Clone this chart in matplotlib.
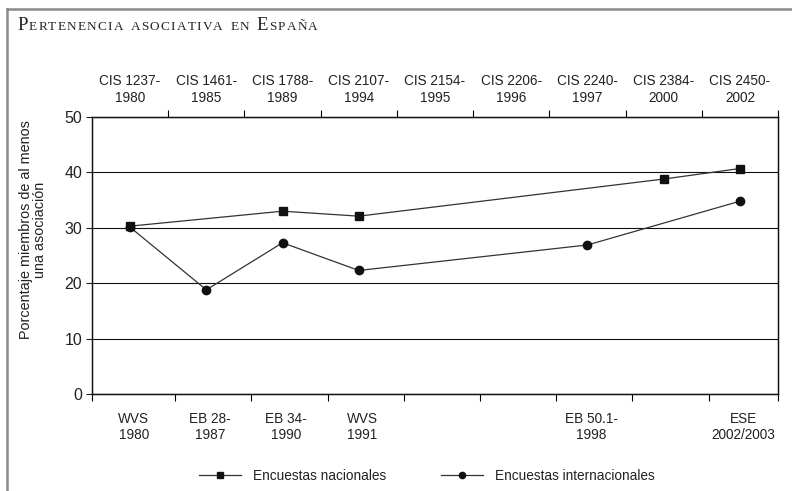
import matplotlib
matplotlib.use("Agg")
import matplotlib.pyplot as plt
import numpy as np
from matplotlib.lines import Line2D
from matplotlib.offsetbox import TextArea, HPacker, AnchoredOffsetbox, DrawingArea

plt.rcParams['font.family'] = ['Liberation Sans', 'DejaVu Sans']

# ---- data ----
top_labels = ["CIS 1237-\n1980", "CIS 1461-\n1985", "CIS 1788-\n1989", "CIS 2107-\n1994",
              "CIS 2154-\n1995", "CIS 2206-\n1996", "CIS 2240-\n1997", "CIS 2384-\n2000",
              "CIS 2450-\n2002"]
bottom_labels = ["WVS\n1980", "EB 28-\n1987", "EB 34-\n1990", "WVS\n1991", "", "",
                 "EB 50.1-\n1998", "", "ESE\n2002/2003"]
nac_x = [0, 2, 3, 7, 8]
nac_y = [30.3, 33.0, 32.1, 38.8, 40.7]
int_x = [0, 1, 2, 3, 6, 8]
int_y = [30.1, 18.8, 27.3, 22.3, 26.9, 34.8]
y_ticks = [0, 10, 20, 30, 40, 50]
title = "Pertenencia asociativa en España"
ylabel = "Porcentaje miembros de al menos\nuna asociación"
legend_labels = ["Encuestas nacionales", "Encuestas internacionales"]

W, H = 792, 491
fig = plt.figure(figsize=(W / 100, H / 100), dpi=100)
ax = fig.add_axes([92 / W, 1 - 394 / H, (778 - 92) / W, (394 - 117) / H])

n = len(top_labels)
ax.set_xlim(-0.5, n - 0.5)
ax.set_ylim(0, 50)

# series
ax.plot(nac_x, nac_y, color='#333333', lw=0.9, marker='s', ms=6, mfc='#111111',
        mec='#111111', zorder=4)
ax.plot(int_x, int_y, color='#333333', lw=0.9, marker='o', ms=6, mfc='#111111',
        mec='#111111', zorder=4)

# y axis
ax.set_yticks(y_ticks)
ax.tick_params(axis='y', direction='out', length=4, width=0.8, labelsize=11.5, pad=3,
               colors='#222222')
ax.yaxis.grid(True, color='#111111', lw=0.8)
ax.set_axisbelow(True)
ax.set_ylabel(ylabel, fontsize=10.4, color='#222222', linespacing=1.0)
ax.yaxis.set_label_coords((47 - 92) / (778 - 92), 1 - (230 - 117) / (394 - 117))

# bottom axis
centers = np.arange(n)
ax.set_xticks(np.arange(-0.5, n + 0.5, 1) + np.r_[0, np.full(n - 1, 0.09), 0])
ax.set_xticklabels([])
ax.set_xticks(centers + 0.05, minor=True)
ax.set_xticklabels(bottom_labels, minor=True, fontsize=9.8, color='#222222')
ax.tick_params(axis='x', which='major', direction='out', length=5, width=0.8)
ax.tick_params(axis='x', which='minor', length=0, pad=13)

# top axis
axt = ax.twiny()
axt.set_xlim(ax.get_xlim())
axt.set_xticks(np.arange(0.5, n + 0.5, 1))
axt.set_xticklabels([])
axt.set_xticks(centers, minor=True)
axt.set_xticklabels(top_labels, minor=True, fontsize=9.8, color='#222222')
axt.tick_params(axis='x', which='major', direction='out', length=5, width=0.8)
axt.tick_params(axis='x', which='minor', length=0, pad=9)

for a in (ax, axt):
    for s in a.spines.values():
        s.set_color('#111111')
        s.set_linewidth(0.9)

# legend
handles = [Line2D([], [], color='#333333', lw=0.9, marker='s', ms=4.5, mfc='#111111', mec='#111111'),
           Line2D([], [], color='#333333', lw=0.9, marker='o', ms=4.5, mfc='#111111', mec='#111111')]
fig.legend(handles, legend_labels, loc='center', bbox_to_anchor=(427 / W, 1 - 476 / H),
           ncol=2, frameon=False, fontsize=9.8, handlelength=3.1, handletextpad=0.88,
           columnspacing=4.0, labelcolor='#222222')

# title in small caps (letter-spaced)
boxes = []
prev_space = True
for ch in title:
    if ch == " ":
        boxes.append(DrawingArea(3.5, 1))
        prev_space = True
        continue
    big = prev_space and ch.isupper()
    boxes.append(TextArea(ch.upper(), textprops=dict(family='Liberation Serif',
                                                       fontsize=13.5 if big else 9.5,
                                                       color='#222222')))
    prev_space = False
hp = HPacker(children=boxes, align='baseline', pad=0, sep=0.9)
ab = AnchoredOffsetbox(loc='lower left', child=hp, frameon=False, pad=0, borderpad=0,
                       bbox_to_anchor=(17 / W, 1 - 34.5 / H), bbox_transform=fig.transFigure)
fig.add_artist(ab)

# outer frame (grey left and top lines)
fig.add_artist(Line2D([7 / W, 7 / W], [0, 1 - 9 / H], transform=fig.transFigure,
                      color='#8a8a8a', lw=1.8))
fig.add_artist(Line2D([7 / W, 1], [1 - 9 / H, 1 - 9 / H], transform=fig.transFigure,
                      color='#8a8a8a', lw=1.8))

fig.savefig('out.png', dpi=100, facecolor='white')
